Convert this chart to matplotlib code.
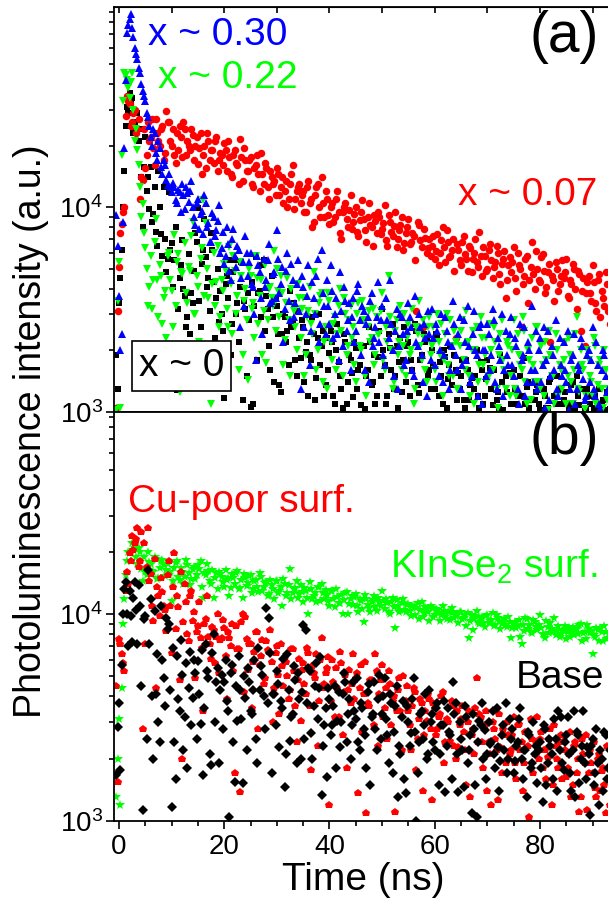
import matplotlib
matplotlib.use('Agg')
import matplotlib.pyplot as plt
import numpy as np
from matplotlib.ticker import LogLocator, MultipleLocator, NullFormatter

plt.rcParams['font.family'] = ['Liberation Sans', 'DejaVu Sans']
plt.rcParams['mathtext.fontset'] = 'custom'
plt.rcParams['mathtext.rm'] = 'Liberation Sans'
plt.rcParams['mathtext.it'] = 'Liberation Sans:italic'
plt.rcParams['mathtext.default'] = 'regular'

# time axis of the decays (ns), two interleaved sample sets
t_ns = [
    -0.5, 0, 0.5, 1, 1.5, 2, 2.5, 3, 3.5, 4,
    4.5, 5, 5.5, 6, 6.5, 7, 7.5, 8, 8.5, 9,
    9.5, 10, 10.5, 11, 11.5, 12, 12.5, 13, 13.5, 14,
    14.5, 15, 15.5, 16, 16.5, 17, 17.5, 18, 18.5, 19,
    19.5, 20, 20.5, 21, 21.5, 22, 22.5, 23, 23.5, 24,
    24.5, 25, 25.5, 26, 26.5, 27, 27.5, 28, 28.5, 29,
    29.5, 30, 30.5, 31, 31.5, 32, 32.5, 33, 33.5, 34,
    34.5, 35, 35.5, 36, 36.5, 37, 37.5, 38, 38.5, 39,
    39.5, 40, 40.5, 41, 41.5, 42, 42.5, 43, 43.5, 44,
    44.5, 45, 45.5, 46, 46.5, 47, 47.5, 48, 48.5, 49,
    49.5, 50, 50.5, 51, 51.5, 52, 52.5, 53, 53.5, 54,
    54.5, 55, 55.5, 56, 56.5, 57, 57.5, 58, 58.5, 59,
    59.5, 60, 60.5, 61, 61.5, 62, 62.5, 63, 63.5, 64,
    64.5, 65, 65.5, 66, 66.5, 67, 67.5, 68, 68.5, 69,
    69.5, 70, 70.5, 71, 71.5, 72, 72.5, 73, 73.5, 74,
    74.5, 75, 75.5, 76, 76.5, 77, 77.5, 78, 78.5, 79,
    79.5, 80, 80.5, 81, 81.5, 82, 82.5, 83, 83.5, 84,
    84.5, 85, 85.5, 86, 86.5, 87, 87.5, 88, 88.5, 89,
    89.5, 90, 90.5, 91, 91.5, 92, 92.5, 93,
]
t_half = [
    -0.25, 0.25, 0.75, 1.25, 1.75, 2.25, 2.75, 3.25, 3.75, 4.25,
    4.75, 5.25, 5.75, 6.25, 6.75, 7.25, 7.75, 8.25, 8.75, 9.25,
    9.75, 10.25, 10.75, 11.25, 11.75, 12.25, 12.75, 13.25, 13.75, 14.25,
    14.75, 15.25, 15.75, 16.25, 16.75, 17.25, 17.75, 18.25, 18.75, 19.25,
    19.75, 20.25, 20.75, 21.25, 21.75, 22.25, 22.75, 23.25, 23.75, 24.25,
    24.75, 25.25, 25.75, 26.25, 26.75, 27.25, 27.75, 28.25, 28.75, 29.25,
    29.75, 30.25, 30.75, 31.25, 31.75, 32.25, 32.75, 33.25, 33.75, 34.25,
    34.75, 35.25, 35.75, 36.25, 36.75, 37.25, 37.75, 38.25, 38.75, 39.25,
    39.75, 40.25, 40.75, 41.25, 41.75, 42.25, 42.75, 43.25, 43.75, 44.25,
    44.75, 45.25, 45.75, 46.25, 46.75, 47.25, 47.75, 48.25, 48.75, 49.25,
    49.75, 50.25, 50.75, 51.25, 51.75, 52.25, 52.75, 53.25, 53.75, 54.25,
    54.75, 55.25, 55.75, 56.25, 56.75, 57.25, 57.75, 58.25, 58.75, 59.25,
    59.75, 60.25, 60.75, 61.25, 61.75, 62.25, 62.75, 63.25, 63.75, 64.25,
    64.75, 65.25, 65.75, 66.25, 66.75, 67.25, 67.75, 68.25, 68.75, 69.25,
    69.75, 70.25, 70.75, 71.25, 71.75, 72.25, 72.75, 73.25, 73.75, 74.25,
    74.75, 75.25, 75.75, 76.25, 76.75, 77.25, 77.75, 78.25, 78.75, 79.25,
    79.75, 80.25, 80.75, 81.25, 81.75, 82.25, 82.75, 83.25, 83.75, 84.25,
    84.75, 85.25, 85.75, 86.25, 86.75, 87.25, 87.75, 88.25, 88.75, 89.25,
    89.75, 90.25, 90.75, 91.25, 91.75, 92.25, 92.75, 93.25,
]

# ---- panel (a), PL counts in units of 1e3 ----
pl_x007 = [
    1.05, 5.1, 8.3, 10.0, 35, 32, 26, 30, 24, 11.0,
    13.6, 15.5, 26, 22, 19.5, 27, 21, 24, 17, 29.5,
    26, 20, 18, 23, 25, 17.5, 24, 21, 19, 22.5,
    20, 16.3, 23, 18, 15.5, 21, 19, 16.5, 22, 17,
    18, 20.5, 15, 17.5, 14, 19, 16, 21.5, 13.5, 17,
    15, 17.5, 12.5, 16, 14.5, 18.5, 13, 15.5, 11, 14,
    13.5, 15.5, 11.5, 14, 12, 10, 13, 16, 11, 12.5,
    10.5, 12, 9.5, 13.5, 11, 8.5, 12.5, 10, 14, 9,
    11, 8.3, 10.5, 9, 12, 7.5, 9.5, 10.5, 8, 11.5,
    8.5, 10, 7.2, 9.5, 8.8, 6.8, 10.5, 8, 9.2, 7.5,
    9, 7.8, 10.2, 6.5, 8.5, 7.2, 9.5, 7, 8.2, 6.2,
    7.5, 8.8, 6.8, 7.2, 3.1, 8.2, 6.4, 7.8, 6, 7,
    6.5, 5.6, 7.4, 6, 8, 5.4, 6.8, 5.8, 7, 2.3,
    6.2, 5.2, 7.2, 5.6, 6.5, 4.8, 6, 5.4, 7.6, 4.6,
    5.8, 5, 6.6, 4.5, 5.4, 6, 4.2, 5.6, 3.6, 5.2,
    4.8, 6.4, 3.9, 5.2, 2.6, 4.6, 5.8, 4.4, 6.8, 4,
    5, 4.3, 5.9, 3.8, 4.8, 2.2, 4.4, 5.4, 3.9, 4.6,
    4.5, 5.6, 3.6, 4.2, 5, 3.2, 4.7, 3.9, 2.1, 4.3,
    3.8, 5.2, 3.4, 4.4, 2.9, 3.6, 4.8, 3.1,
]
pl_x007_b = [
    3.1, 7.5, 9.5, 28, 33, 25, 29, 23, 27, 14,
    24, 18, 21, 27, 16, 23, 20, 25, 18.5, 26,
    21, 24, 16.5, 19, 22, 26, 18, 20, 24, 17,
    22, 19.5, 14.5, 20, 23, 17, 19, 21, 15, 18.5,
    16, 19, 21, 14.5, 18, 16.5, 13, 17.5, 19.5, 15,
    17, 13, 15.5, 18, 12, 14.5, 16.5, 12.5, 15, 13,
    11.5, 14.5, 12.5, 10.5, 13.5, 11, 14.5, 9.8, 12, 13,
    11.5, 9.5, 12.5, 10.5, 8, 11.5, 13, 9, 10.5, 12,
    9.2, 10, 8.5, 11, 9.5, 7, 10, 8.8, 9.7, 7.8,
    9.3, 7.6, 8.7, 10.8, 7.7, 9, 8.2, 6.5, 8.6, 9.5,
    7.4, 8.4, 6.9, 9.2, 7.6, 8.1, 6.4, 7.7, 9, 6.7,
    8, 6.6, 7.5, 5.5, 8.5, 6.9, 2.6, 7.1, 6.3, 5.8,
    7.2, 6.1, 5.2, 6.9, 6.4, 7.7, 5.7, 6.2, 4.9, 6.6,
    5.5, 6.8, 5.9, 4.9, 6.3, 5.6, 7, 5.1, 5.8, 6.4,
    4.9, 6.2, 5.5, 5.1, 6.5, 4.7, 5.3, 6.1, 4.4, 5.7,
    5.4, 4.5, 6, 5, 4.2, 5.6, 3.4, 5.1, 4.7, 6.1,
    4.4, 5.7, 4.9, 4.1, 5.3, 4.6, 3.5, 5, 4.2, 5.5,
    4.8, 3.7, 4.4, 5.3, 4, 4.9, 2.5, 4.5, 3.8, 4.6,
    3.5, 4.3, 3.1, 4.7, 3.9, 3.3, 4.2, 2.7,
]
pl_x030 = [
    9.2, 3.7, 2.4, 19.5, 71, 83, 75, 60, 53, 45,
    37, 33, 27.5, 22, 24, 18.5, 21, 15.7, 17, 13.6,
    14.5, 11.8, 12.5, 10.5, 11.8, 13, 9.8, 11.7, 12, 10,
    8.2, 11, 9.3, 7.4, 10.5, 8.4, 6.8, 9, 7.7, 10.2,
    6.3, 5.3, 8, 4.9, 7, 5.8, 6.5, 2.6, 5.4, 7.2,
    4.6, 6, 4.1, 1.8, 5.2, 3.6, 5.6, 4.4, 6.6, 3.5,
    4.8, 7.7, 3.8, 5.1, 3.2, 6, 2.8, 4.4, 3.4, 5.5,
    1.3, 4.1, 3, 5.2, 2.5, 3.6, 4.6, 2.2, 6.2, 3.3,
    4.4, 2.7, 3.9, 3, 2.4, 4.8, 2.1, 3.5, 2.8, 1.6,
    3.6, 2.5, 4.2, 1.9, 3.1, 2.7, 1.4, 3.8, 2.3, 2.9,
    2.2, 3.3, 1.7, 2.8, 4.4, 2, 2.5, 1.3, 3, 2.4,
    1.8, 3.4, 2.6, 1.5, 2.2, 3, 1.9, 2.7, 1.2, 2.4,
    3.2, 1.7, 2.5, 2, 1.4, 2.9, 2.2, 1.6, 3.5, 1.9,
    2.4, 1.3, 2.8, 1.8, 2.1, 1.5, 3.1, 1.9, 2.6, 1.1,
    2, 2.7, 1.6, 3.2, 1.4, 2.3, 1.8, 1.2, 2.5, 1.7,
    2.9, 1.5, 2.1, 1.1, 1.8, 2.6, 1.4, 2, 3.3, 1.6,
    1.3, 2.3, 1.7, 1.05, 2.5, 1.5, 1.9, 2.8, 1.2, 1.7,
    2.2, 1.4, 1.02, 1.8, 2.4, 1.3, 1.6, 2.1, 1.15, 1.9,
    1.4, 2.6, 1.2, 1.7, 1.05, 2, 1.5, 1.3,
]
pl_x030_b = [
    6.5, 2.0, 8.5, 42, 78, 88, 68, 56, 48, 40,
    35, 29, 25, 20, 23, 17, 19.5, 14.5, 16, 12.8,
    12.5, 13.2, 10.8, 12.2, 9.5, 11.5, 12.6, 10.6, 13.5, 9,
    10.5, 7.8, 9.6, 11.5, 8, 6.8, 9.4, 7.2, 8.6, 6,
    7.6, 5.8, 6.6, 4.4, 7.8, 5.1, 6.2, 4.5, 3.3, 6,
    5.4, 4.2, 3.0, 5.8, 4.8, 2.4, 4.1, 5.5, 3.4, 4.7,
    3.6, 5.6, 4.2, 2.2, 4.9, 3.5, 5.3, 2.9, 4.2, 3.1,
    4.6, 2.6, 3.7, 1.7, 4.3, 3, 5.6, 2.7, 3.8, 2.4,
    3.3, 5.2, 2.3, 3.6, 1.8, 3.1, 4.1, 2.5, 3.4, 2.9,
    2.2, 3.9, 2.8, 3.3, 1.6, 2.9, 3.5, 2.1, 2.6, 4.3,
    2.8, 1.9, 3.6, 2.3, 2.7, 1.5, 3.2, 2.1, 2.9, 1.7,
    2.5, 2.9, 1.6, 3.7, 2.1, 2.6, 1.4, 2.3, 3.1, 1.8,
    2.3, 2.7, 1.5, 3, 1.9, 2.5, 1.3, 2.1, 2.7, 1.6,
    2.9, 1.7, 2.2, 3.3, 1.4, 2.4, 2, 1.2, 2.7, 2,
    1.5, 2.4, 1.9, 2.8, 1.3, 2.1, 3, 1.6, 1.9, 2.4,
    1.7, 2.3, 1.3, 2.7, 1.9, 1.2, 2.2, 1.6, 1.4, 2.5,
    2, 1.4, 2.6, 1.8, 1.15, 2.1, 1.6, 1.3, 2.3, 1.5,
    1.6, 2.5, 1.3, 1.9, 1.1, 1.7, 2.3, 1.45, 1.2, 2,
    1.8, 1.3, 2.2, 1.1, 1.6, 1.9, 1.25, 1.5,
]
pl_x022 = [
    1.02, 5.4, 18, 45, 42, 34, 45, 21, 19, 12.5,
    10.4, 6.3, 3.3, 5.8, 4.4, 8.8, 2.9, 4.6, 3.6, 2.3,
    6, 3.9, 7.3, 5.4, 1.25, 4.7, 6.7, 3.4, 4.9, 8.5,
    3, 4.1, 5.6, 10.8, 8.4, 3.6, 1.1, 6, 4.3, 2.6,
    4.4, 5.3, 3.2, 6.4, 2.4, 4.9, 3.7, 5.4, 1.9, 4,
    1.43, 4.6, 3.4, 5.8, 2.7, 4.4, 3.1, 1.73, 4, 3.6,
    6.1, 5, 2.9, 3.8, 2.25, 4.5, 1.5, 3.3, 2.6, 4.2,
    2.3, 3.6, 1.9, 3.1, 2.7, 4.8, 1.6, 3.4, 3.8, 2.2,
    1.3, 3.5, 1.8, 2.9, 2.4, 4, 1.5, 3, 2.1, 3.3,
    2.6, 1.4, 3.4, 2, 2.8, 1.2, 3.1, 2.3, 1.7, 2.9,
    2.4, 3.8, 1.6, 2.2, 2.9, 1.3, 2.5, 1.9, 3.3, 2.1,
    1.5, 2.7, 2, 1.1, 2.6, 3.5, 1.8, 2.3, 1.4, 2.9,
    2.1, 1.6, 3, 1.9, 1.2, 2.4, 1.7, 2.8, 1.5, 2.2,
    1.3, 2.5, 1.8, 3.1, 1.5, 2, 1.1, 2.6, 1.7, 2.3,
    1.9, 1.4, 2.7, 1.6, 2.2, 1.05, 2.4, 1.8, 1.3, 2.1,
    1.5, 2.8, 1.2, 1.9, 1.6, 2.5, 1.1, 1.8, 2.3, 1.4,
    2.6, 1.3, 1.7, 2.2, 1.02, 1.9, 1.5, 2.4, 1.2, 1.6,
    1.8, 1.1, 2.3, 1.4, 1.6, 2.9, 1.25, 1.7, 1.03, 2,
    1.5, 1.2, 2.1, 1.35, 1.8, 1.05, 1.6, 1.3,
]
pl_x022_b = [
    3.5, 1.05, 33, 44, 38, 41, 30, 24, 16, 9,
    7.5, 5, 4.1, 3.2, 6.8, 4.4, 5.2, 2.7, 3.9, 5.8,
    4.4, 2.6, 3.3, 5.9, 4.8, 1.9, 3.8, 5.1, 7.2, 3,
    4.6, 2.2, 6.3, 3.7, 5, 1.5, 4.2, 3.3, 6.5, 2.9,
    3.9, 4.9, 2.6, 4.2, 5.8, 3, 1.6, 4.6, 3.5, 2.8,
    5, 3.2, 2.3, 4.5, 3.7, 1.9, 5.2, 2.8, 4.1, 3.3,
    2.5, 3.9, 4.6, 1.7, 3.4, 2.8, 4, 3.1, 2, 3.6,
    3.2, 1.5, 2.9, 4.1, 2.4, 3, 2, 3.7, 1.4, 2.6,
    3.8, 2.2, 2.7, 1.6, 3.3, 2.5, 3.6, 1.9, 2.8, 2.3,
    1.7, 3, 2.1, 3.5, 1.5, 2.6, 2.2, 3.2, 1.9, 2.4,
    3.1, 1.8, 2.6, 4.6, 2, 1.4, 2.8, 2.2, 1.6, 3,
    2.3, 1.9, 3.2, 1.3, 2.4, 2.1, 2.8, 1.6, 2.6, 1.9,
    2.6, 1.4, 2.2, 2.7, 1.8, 3, 1.5, 2.1, 2.5, 1.3,
    2.1, 2.8, 1.6, 2.2, 1.2, 2.5, 2, 1.4, 2.9, 1.7,
    2.3, 1.5, 2, 2.6, 1.3, 1.9, 2.8, 1.6, 2.2, 1.2,
    2, 1.3, 2.4, 1.7, 2.9, 1.4, 2, 1.15, 1.7, 2.6,
    1.4, 2.1, 1.2, 1.8, 2.5, 1.5, 1.1, 2, 1.7, 1.3,
    2.2, 1.5, 1.9, 1.1, 2.4, 1.3, 2, 1.6, 1.2, 1.8,
    1.4, 2.3, 1.1, 1.7, 1.3, 2, 1.15, 1.6,
]
pl_x000 = [
    1.9, 3.4, 6.2, 15, 31, 36, 34, 26, 29, 24,
    8, 22, 14, 15.7, 9.3, 7.6, 15, 7.4, 12.5, 4.8,
    11.8, 6.7, 5.5, 1.28, 4.5, 6.9, 3.7, 2.9, 2.4, 3.4,
    7.5, 9.9, 2.6, 6.2, 5.7, 4.5, 7.5, 4.3, 3.6, 2.75,
    3, 1.17, 4.6, 5.5, 2.7, 5.5, 3.4, 4.1, 1.14, 3.2,
    3.8, 1.06, 1.1, 5.7, 3.8, 2.9, 5.5, 3.7, 2.1, 4.6,
    1.4, 3.3, 1.35, 2.4, 2.9, 2.5, 3.9, 2.7, 1.8, 3.1,
    1.83, 2.6, 1.96, 1.2, 1.8, 2.4, 1.46, 3, 2.1, 1.2,
    2.3, 1.94, 2.2, 1.1, 2.7, 1.5, 1.05, 2.2, 1.4, 1.8,
    1.18, 2.05, 1.6, 1.08, 2.1, 1.5, 2.6, 1.35, 1.9, 1.2,
    2.5, 3.2, 1.7, 1.2, 2.05, 2.7, 1.5, 1.05, 2.3, 1.8,
    1.4, 2.2, 1.8, 0.95, 2.5, 1.24, 1.9, 2.4, 2.3, 1.6,
    2, 1.3, 2.3, 1.75, 1.1, 1.86, 1.45, 2.1, 0.96, 1.6,
    1.55, 1.5, 1.15, 1.8, 1.14, 1.46, 1.3, 2, 1.05, 1.6,
    1.2, 1.8, 1.64, 1.08, 0.95, 1.25, 1.9, 1.02, 1.5, 0.97,
    1.1, 1.6, 1.09, 0.96, 1.2, 1.83, 1.32, 1.05, 0.95, 1.15,
    1.35, 1.02, 0.97, 1.2, 1.05, 1.45, 0.96, 1.1, 0.95, 1.3,
    1.15, 0.96, 1.03, 1.35, 0.95, 1.5, 1.08, 0.97, 1.01, 1.3,
    1.1, 0.96, 1.2, 1.04, 0.95, 1.15, 1.02, 0.97,
]
pl_x000_b = [
    1.3, 4.5, 10, 25, 29, 33, 23, 24.5, 21, 14,
    15.7, 12, 9.8, 8.5, 12.5, 6.5, 10, 5.8, 7, 5.6,
    6.2, 4.1, 8, 3.2, 5.2, 4, 2.6, 5.9, 3.8, 4.9,
    6.8, 3.5, 5.3, 8.8, 4.1, 3.1, 6.2, 2.3, 5, 3.9,
    2.5, 4.2, 3.6, 1.9, 4.8, 3, 2.2, 5.4, 3.5, 1.5,
    2.8, 4.3, 3.3, 1.8, 3.9, 5.2, 2.5, 3.2, 1.6, 2.9,
    3.6, 2.4, 1.25, 3, 2.2, 1.7, 2.6, 3.4, 1.5, 2.3,
    2.8, 1.4, 2.2, 1.9, 2.9, 1.15, 2.3, 1.7, 2.5, 1.35,
    1.6, 2.5, 1.2, 2, 1.75, 1.3, 2.4, 1.1, 1.9, 1.55,
    2.2, 1.3, 1.7, 2.8, 1.04, 1.6, 2.2, 1.4, 1.1, 1.85,
    1.5, 2, 1.1, 2.4, 1.6, 1.3, 2.1, 1.75, 1.25, 2.6,
    2.1, 1.2, 1.6, 2.7, 1.35, 1.8, 0.97, 2.2, 1.5, 1.3,
    1.7, 2.4, 1.2, 1.5, 2, 1.05, 1.7, 1.35, 1.9, 1.15,
    1.3, 1.8, 1.05, 1.6, 1.35, 0.96, 1.5, 1.2, 1.75, 1.1,
    1.45, 0.97, 1.3, 1.6, 1.15, 1.04, 1.4, 0.96, 1.25, 1.55,
    0.95, 1.3, 1.2, 1.5, 0.97, 1.1, 1.4, 1.15, 0.96, 1.25,
    1.1, 0.96, 1.3, 1.05, 1.4, 0.95, 1.2, 1.5, 0.97, 1.1,
    1.25, 0.95, 1.1, 1.4, 1.02, 1.2, 0.96, 1.3, 1.05, 0.97,
    1.2, 1.05, 0.96, 1.3, 1.1, 0.97, 1.25, 1.03,
]

# ---- panel (b) ----
pl_kinse2 = [
    1.3, 3.1, 4.4, 11.8, 18, 19.7, 22, 21, 17.5, 20,
    14.4, 16, 20, 17.5, 16, 18.5, 15, 18, 17.3, 16.4,
    15.5, 11.6, 16.8, 18, 14.7, 16, 15.2, 17.3, 13.8, 16.5,
    14.8, 17.3, 18, 12, 15.5, 16.2, 14, 12, 15.8, 16,
    15.2, 13.5, 14.6, 12.2, 15.7, 14, 16.2, 13.4, 12, 15,
    14.2, 15.5, 13.2, 14.7, 12.8, 15.2, 13.6, 14.3, 12.5, 13.8,
    11.8, 14.5, 13, 11, 14, 12.7, 16.6, 12.7, 13.4, 12,
    13.8, 11.4, 12.9, 10, 13.2, 12.2, 11.5, 13.6, 14, 11.8,
    12.4, 11, 13, 10.8, 12.1, 11.3, 10, 12.6, 10, 11.9,
    11.1, 12.5, 10.3, 11.6, 9.2, 11.9, 10.7, 11.4, 12.2, 10.4,
    11.5, 12.9, 10.6, 11.3, 10, 12, 8.6, 11, 10.5, 11.8,
    10.2, 11.2, 9.8, 10.9, 10.7, 9.5, 11.4, 10.1, 10.6, 9.3,
    10.7, 9.9, 10.5, 9.3, 10.9, 9.7, 10.3, 9.4, 10.3, 9.8,
    9.1, 10.2, 9.6, 8.8, 7.7, 9.9, 9.5, 10.4, 9, 9.7,
    8.7, 9.9, 9.3, 10.1, 8.9, 9.6, 8.5, 9.2, 8.9, 9.7,
    7.7, 9, 8.6, 9.4, 7.2, 8.3, 9.5, 8.9, 8.1, 9.2,
    8.4, 9.9, 8, 7.7, 8.7, 9.1, 8.2, 7.9, 8.8, 8,
    8.3, 7.6, 8.6, 8.3, 7.9, 8.5, 8.9, 7.4, 8.2, 8.9,
    8.1, 6.4, 7.8, 8.4, 8.6, 7.4, 8.2, 7.7,
]
pl_kinse2_b = [
    2.0, 1.2, 9, 15.5, 20, 18, 20.5, 18.8, 21, 16.5,
    19, 15.5, 17.8, 16.2, 19, 14.8, 16.7, 18.2, 15.3, 17.5,
    16, 14.5, 17.6, 15.1, 16.8, 14, 18.3, 15.8, 14.8, 17,
    15.5, 16.6, 13.5, 15.9, 17.5, 14.5, 16.4, 15, 13.2, 15.7,
    14.3, 16.4, 15, 13.4, 14.9, 15.8, 13.3, 14.6, 15.6, 13.7,
    15.3, 12.6, 14.5, 13.5, 15.8, 13, 14.1, 12.3, 14.6, 13.3,
    14.4, 12.6, 13.6, 14.8, 12.3, 13.9, 11.9, 13.2, 14.4, 12.5,
    12.8, 13.4, 12, 14.3, 11.8, 12.7, 13.5, 11.6, 12.6, 13.1,
    11.6, 12.9, 11.8, 13.3, 11.3, 12.4, 11.7, 12.8, 11.2, 12.3,
    12.1, 10.9, 11.8, 10.6, 12.4, 11.1, 10.2, 11.7, 10.8, 12,
    10.9, 11.6, 11.9, 10.3, 11.4, 10.8, 11.7, 10.2, 11.3, 10.5,
    11.1, 10.4, 10.9, 9.9, 11.3, 10.5, 9.7, 10.8, 10.3, 11,
    9.7, 10.6, 10.1, 9.9, 10.4, 9.5, 10.2, 10.7, 9.6, 10,
    10.3, 9.5, 9.9, 10.1, 9.3, 8.4, 9.8, 9.2, 9.6, 9.1,
    9.8, 9.1, 9.4, 8.8, 9.9, 9.3, 9, 9.5, 8.7, 9.2,
    8.6, 9.2, 8.8, 7.8, 8.9, 9.6, 8.5, 8.2, 9.4, 8.7,
    8.9, 8.6, 7.9, 9.3, 8.1, 8.5, 9.6, 8.3, 7.8, 8.4,
    8.8, 8.2, 7.8, 8.7, 8.4, 8, 9, 8.1, 7.6, 8.5,
    8.3, 7.9, 8.6, 7.4, 8.2, 8.8, 7.6, 8,
]
pl_cupoor = [
    4.5, 7.6, 6.4, 5.3, 16, 19.7, 24, 22, 26, 18,
    2.8, 7.2, 26, 15.7, 9.3, 4.4, 12.2, 15, 11, 8.3,
    18, 6.5, 19.7, 12.2, 4.8, 2, 14, 8, 12.2, 9.3,
    4.9, 8.8, 7.7, 3.4, 9.5, 7.8, 6.1, 8.4, 7.8, 5.2,
    7.7, 8.6, 3.9, 7.7, 9, 1.7, 6.8, 1.38, 10, 9.7,
    5.4, 7.2, 5.9, 8.2, 2.8, 6.3, 4.6, 7.4, 6.6, 5.9,
    4.4, 7, 3.3, 5.6, 6.2, 5, 4.3, 6.8, 3.6, 4.8,
    3.05, 5.8, 4.1, 6.5, 1.76, 5.2, 6.4, 3.8, 7.7, 4.6,
    5.5, 1.2, 6, 3.2, 4.4, 6.6, 2.6, 5.1, 4.3, 3.7,
    6.4, 4.9, 1.36, 5.7, 4.1, 1.09, 3.6, 4.8, 2.9, 5.3,
    4.1, 5.7, 3.5, 2.5, 4.6, 3.8, 1.1, 4.3, 3.4, 5,
    3.8, 3.4, 2.2, 4.4, 1.76, 3.1, 3.7, 2.6, 3.05, 3.9,
    1.26, 3.5, 2.8, 3.3, 4.2, 2.4, 3, 2.45, 3.6, 2,
    2.27, 3.1, 2.7, 1.5, 3.4, 2.6, 2.1, 4.9, 3.3, 2.4,
    2.9, 1.4, 2.1, 3, 2.5, 1.26, 2.27, 2.8, 1.9, 2.6,
    2.2, 3.2, 1.6, 2.95, 2.4, 1.9, 2.7, 1.05, 2.5, 2.1,
    3.2, 2.5, 1.8, 2.2, 2.03, 2.8, 1.5, 2.3, 1.8, 2.6,
    2.45, 1.63, 2.1, 1.3, 2.3, 1.7, 1.1, 2.5, 1.9, 1.13,
    2.2, 1.7, 1.45, 2, 1.4, 1.8, 1.09, 1.6,
]
pl_cupoor_b = [
    1.54, 7.2, 5.8, 13, 14, 18, 20.5, 23, 17, 25,
    22, 17, 14.5, 11, 18.5, 13.5, 9.8, 12.8, 10.5, 15.5,
    11, 13.5, 8.5, 10.8, 16, 9.2, 11.5, 7.4, 13, 10.2,
    8.2, 11.5, 6.9, 9, 12.2, 7.2, 8.7, 5.8, 10, 7.5,
    9.4, 6.3, 8.2, 7, 5.3, 8.8, 6.8, 9.2, 4.2, 7.6,
    7.2, 3.5, 6.6, 8.2, 5.7, 7.5, 4.9, 6.7, 8.4, 3,
    6.5, 5.1, 7.2, 4.5, 5.9, 3.9, 6.8, 5.3, 2.4, 6.1,
    5.4, 4.6, 6.9, 3.6, 5.6, 4.9, 2.3, 6, 4.4, 5.2,
    6.2, 3.8, 4.7, 5.5, 3.2, 5.8, 4.2, 1.8, 5.4, 4.6,
    3.9, 5.2, 4.4, 2.7, 5.9, 3.7, 4.8, 3.3, 6.4, 2.3,
    4.8, 3.2, 4.4, 5.3, 2.9, 4, 3.4, 4.9, 2.2, 3.8,
    4.5, 2.9, 3.6, 4.2, 2.5, 3.9, 1.4, 3.4, 4.1, 2.8,
    3.7, 2.6, 3.2, 4, 1.9, 3.1, 2.7, 3.8, 2.3, 3.4,
    2.9, 3.6, 2.2, 3, 1.3, 2.8, 3.5, 2.4, 3.2, 1.8,
    3.4, 2.4, 1.2, 2.8, 2.2, 3.3, 1.7, 2.6, 3, 2.1,
    2.6, 1.9, 2.9, 2.2, 1.4, 2.7, 2.3, 3.1, 1.7, 2.4,
    2, 2.7, 2.2, 1.6, 2.5, 1.2, 2.9, 2, 2.4, 1.6,
    2.2, 1.8, 2.7, 1.5, 2.4, 2, 1.3, 2.1, 2.6, 1.7,
    1.9, 2.4, 1.3, 2.1, 1.75, 1.5, 2.3, 1.2,
]
pl_base = [
    1.66, 3.7, 5.7, 13.3, 10, 13, 7.3, 14.3, 7.2, 11,
    1.13, 9.8, 16.4, 11.8, 2, 4.1, 3, 11, 4.9, 9.6,
    9, 1.17, 2.4, 6.3, 3.4, 5.1, 3.2, 1.8, 6.6, 3.95,
    5.2, 5.95, 2.95, 1.66, 7.2, 4.9, 1.86, 8, 4.7, 1.9,
    5.1, 4.7, 3.8, 1.05, 5.7, 1.54, 3.05, 4.3, 1.52, 3.95,
    5.5, 3.4, 4.3, 2.5, 6.9, 5.6, 4, 10.7, 9.6, 1.7,
    4.1, 5.3, 2.27, 3.5, 1.46, 6.4, 2.45, 3.3, 4.8, 5.2,
    2, 8.9, 8.4, 5.5, 2.65, 3.6, 5.8, 4.4, 1.33, 2.9,
    1.63, 3.9, 2.9, 4.5, 3.05, 2.27, 4.1, 4.7, 3.3, 2,
    4.7, 3.1, 2.4, 3.7, 2.8, 1.8, 4.6, 3.2, 4.7, 2.2,
    5.1, 3.3, 4.9, 2.6, 4.1, 1.7, 3.6, 1.3, 2.1, 3.8,
    1.36, 3, 2.65, 4.9, 1.0, 2.4, 3.4, 2.9, 2, 4.3,
    3.3, 2.2, 3.7, 2.1, 2.9, 1.38, 3.5, 2.6, 4.7, 3.7,
    1.38, 2.5, 1.46, 3.2, 2.2, 1.09, 2.8, 1.05, 3.05, 3.7,
    2.75, 2.1, 2.37, 3.4, 1.8, 2.27, 1.96, 2.9, 3.7, 2,
    2.5, 1.7, 2.3, 3.1, 2, 2.2, 1.3, 2.6, 1.9, 2.1,
    1.52, 2.4, 1.23, 2.8, 1.9, 2.3, 1.6, 2.5, 3.4, 3.2,
    1.76, 2.6, 2.1, 1.4, 3.4, 2.7, 1.52, 2.3, 1.9, 2.27,
    1.07, 2.5, 1.7, 1.9, 2.2, 1.4, 2.6, 1.8,
]
pl_base_b = [
    2.85, 1.76, 10, 14.3, 7, 9.8, 12, 10.5, 13.8, 4.5,
    9.5, 2.5, 7.2, 4, 10.4, 6.4, 2.4, 6, 3.6, 8.5,
    4.3, 6.9, 1.6, 3.9, 7.5, 2.2, 5.8, 4.4, 2.9, 6,
    2.5, 4.1, 6.7, 3.5, 5.3, 2.1, 6.5, 3, 5.5, 4.3,
    2.8, 6, 3.4, 5.2, 2.4, 4.5, 6.3, 3.1, 5, 2.2,
    4.7, 3.3, 6, 1.9, 4.3, 5.1, 2.8, 3.7, 6.5, 4.1,
    2.9, 4.6, 3.8, 6.1, 2.1, 4.3, 3.2, 5.6, 1.9, 3.9,
    4.2, 2.5, 3.7, 5.3, 2, 4.5, 3.1, 6.2, 2.3, 3.5,
    4.4, 2.6, 3.6, 1.8, 4.2, 3, 5.2, 2.4, 3.9, 2.9,
    3.4, 4.9, 2.2, 3.5, 2.6, 4.2, 1.5, 3.3, 2.8, 3.9,
    2.5, 4, 3.1, 1.9, 3.7, 2.7, 4.5, 2.3, 3.2, 1.6,
    3.6, 2.3, 3.9, 2.7, 1.7, 3.3, 2.5, 4.1, 2.1, 3,
    2.4, 3.5, 1.5, 2.9, 3.8, 2.3, 2.7, 1.6, 3.3, 2.1,
    3, 2.2, 3.6, 1.9, 2.6, 3.3, 1.5, 2.4, 2.9, 2,
    1.6, 3, 2.4, 2.1, 3.5, 1.4, 2.6, 2.2, 1.7, 3.1,
    2.8, 1.96, 2.4, 3.5, 1.6, 2.2, 2.7, 1.8, 3, 2.3,
    2.2, 1.8, 2.9, 1.5, 2.5, 2.1, 3.1, 1.4, 2.2, 1.9,
    2.4, 3.2, 1.7, 2.2, 1.3, 2.6, 2, 3.4, 1.6, 2.1,
    2.3, 1.5, 2.8, 1.2, 2, 2.7, 1.6, 2.2,
]

t_all = np.concatenate([t_ns, t_half])


def both(a, b):
    return np.concatenate([a, b]) * 1e3


fig = plt.figure(figsize=(6.08, 9.02), dpi=100)
ax1 = fig.add_axes([114/608, 1-412/902, 498/608, 405/902])
ax2 = fig.add_axes([114/608, 1-821/902, 498/608, 409/902], sharex=ax1)

kw = dict(ls='none', mew=0)
ax1.plot(t_all, both(pl_x000, pl_x000_b), 's', color='k', ms=4.6, **kw)
ax1.plot(t_all, both(pl_x007, pl_x007_b), 'o', color='#ff0000', ms=5.4, **kw)
ax1.plot(t_all, both(pl_x022, pl_x022_b), 'v', color='#00ff00', ms=6, **kw)
ax1.plot(t_all, both(pl_x030, pl_x030_b), '^', color='#0000ff', ms=6, **kw)

ax2.plot(t_all, both(pl_kinse2, pl_kinse2_b), '*', color='#00ff00', ms=7.5, **kw)
ax2.plot(t_all, both(pl_cupoor, pl_cupoor_b), 'p', color='#ff0000', ms=6.2, **kw)
ax2.plot(t_all, both(pl_base, pl_base_b), 'D', color='k', ms=5.2, **kw)

for ax in (ax1, ax2):
    ax.set_yscale('log')
    ax.set_ylim(1e3, 9.5e4)
    ax.set_xlim(-0.95, 93.7)
    ax.yaxis.set_major_locator(LogLocator(base=10))
    ax.yaxis.set_minor_locator(LogLocator(base=10, subs=np.arange(2, 10)))
    ax.yaxis.set_minor_formatter(NullFormatter())
    ax.xaxis.set_major_locator(MultipleLocator(20))
    ax.xaxis.set_minor_locator(MultipleLocator(5))
    ax.tick_params(which='major', direction='out', length=6, width=1.2, labelsize=20)
    ax.tick_params(axis='y', which='major', pad=2)
    ax.tick_params(which='minor', direction='out', length=3.5, width=1.2)
    for s in ax.spines.values():
        s.set_linewidth(1.3)

ax1.tick_params(axis='x', labelbottom=False)
# inward ticks along the top of panel (a)
top = ax1.secondary_xaxis('top')
top.xaxis.set_major_locator(MultipleLocator(10))
top.tick_params(direction='in', length=4, width=1.2, labeltop=False)

ax2.set_xlabel('Time (ns)', fontsize=28, labelpad=1)
fig.text(31/608, 1-431/902, 'Photoluminescence intensity (a.u.)',
         rotation=90, fontsize=27, ha='center', va='center')

ax1.text(5.5, 6.9e4, 'x ~ 0.30', color='#0000ff', fontsize=28, va='center')
ax1.text(7.4, 4.27e4, 'x ~ 0.22', color='#00ff00', fontsize=28, va='center')
ax1.text(64.4, 1.15e4, 'x ~ 0.07', color='#ff0000', fontsize=28, va='center')
ax1.text(3.8, 1.68e3, 'x ~ 0', color='k', fontsize=28, va='center',
         bbox=dict(boxstyle='square,pad=0.18', fc='white', ec='k', lw=1.2))
ax1.text(0.835, 0.925, '(a)', transform=ax1.transAxes, fontsize=41,
         va='center', ha='left')

ax2.text(1.7, 3.5e4, 'Cu-poor surf.', color='#ff0000', fontsize=28, va='center')
ax2.text(51.5, 1.7e4, r'KInSe$_2$ surf.', color='#00ff00', fontsize=28, va='center')
ax2.text(75.5, 4.9e3, 'Base', color='k', fontsize=28, va='center')
ax2.text(0.835, 0.935, '(b)', transform=ax2.transAxes, fontsize=41,
         va='center', ha='left')

plt.savefig('out.png', dpi=100)
